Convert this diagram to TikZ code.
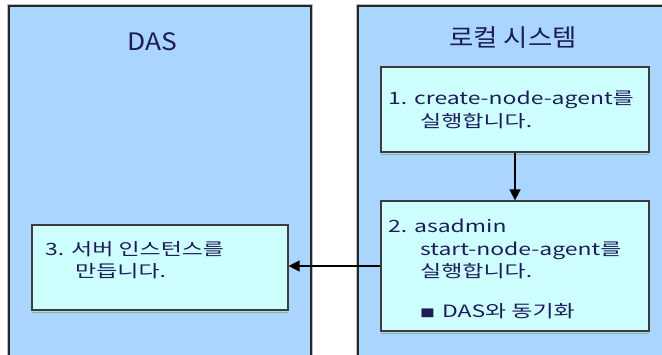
\documentclass[tikz,border=0pt]{standalone}
\usepackage{fontspec}
\newfontfamily\bodyfont{Noto Sans CJK KR}[FakeStretch=1.35]
\newfontfamily\titlefont{Noto Sans CJK KR}[FakeStretch=1.1]
\usetikzlibrary{arrows.meta}
\definecolor{panelfill}{RGB}{170,213,255}
\definecolor{boxfill}{RGB}{206,255,255}
\definecolor{boxline}{RGB}{60,60,60}
\definecolor{shadowc}{RGB}{140,178,160}
\definecolor{textc}{RGB}{28,28,88}
\tikzset{
  panel/.style={fill=panelfill, draw=black!85, line width=1.5pt},
  halo/.style={draw=black!25, line width=1.5pt},
  stepbox/.style={draw=boxline, fill=boxfill, line width=1.2pt, inner sep=0pt},
  title/.style={font=\titlefont\fontsize{24}{24}\selectfont, text=textc, inner sep=0pt, anchor=base},
  body/.style={font=\bodyfont\fontsize{17}{22}\selectfont, text=textc, inner sep=0pt, anchor=base west},
  conn/.style={draw=black, line width=1.4pt, -{Triangle[length=11pt,width=11pt]}},
  shade/.style={draw=shadowc, line width=1pt}
}
\begin{document}
\begin{tikzpicture}[x=1pt,y=-1pt]
\useasboundingbox (0,0) rectangle (662,354);
\clip (0,0) rectangle (662,354);
\fill[white] (0,0) rectangle (662,354);
% panels
\draw[halo] (7.5,4.5) rectangle (312.5,400);
\draw[halo] (356.5,4.5) rectangle (700,400);
\draw[panel] (9,6) rectangle (311,400);
\draw[panel] (358,6) rectangle (700,400);
\node[title] (tdas) at (152,50) {DAS};
\node[title] (tloc) at (513,46) {로컬 시스템};
% boxes
\node[stepbox, minimum width=268pt, minimum height=85pt] (b1) at (515,109.5) {};
\node[stepbox, minimum width=268pt, minimum height=130pt] (b2) at (515,266) {};
\node[stepbox, minimum width=256pt, minimum height=85pt] (b3) at (160,267.5) {};
\draw[shade] ([xshift=1pt,yshift=-1.6pt]b1.south west) -- ([xshift=-1pt,yshift=-1.6pt]b1.south east);
\draw[shade] ([xshift=1pt,yshift=-1.6pt]b2.south west) -- ([xshift=-1pt,yshift=-1.6pt]b2.south east);
\draw[shade] ([xshift=1pt,yshift=-1.6pt]b3.south west) -- ([xshift=-1pt,yshift=-1.6pt]b3.south east);
% texts
\node[body] (t1a) at (388,104) {1. create-node-agent를};
\node[body] (t1b) at (420,127) {실행합니다.};
\node[body] (t2a) at (388,232) {2. asadmin};
\node[body] (t2b) at (420,255) {start-node-agent를};
\node[body] (t2c) at (420,277) {실행합니다.};
\node[body] (t2d) at (420,317) {{\fontsize{11}{11}\selectfont ■}\hspace{7pt}DAS와 동기화};
\node[body] (t3a) at (45,255) {3. 서버 인스턴스를};
\node[body] (t3b) at (75,277) {만듭니다.};
% connectors
\draw[conn] (b1.south) -- (b2.north);
\draw[conn] (b2.west) -- (b2.west -| b3.east);
\end{tikzpicture}
\end{document}
